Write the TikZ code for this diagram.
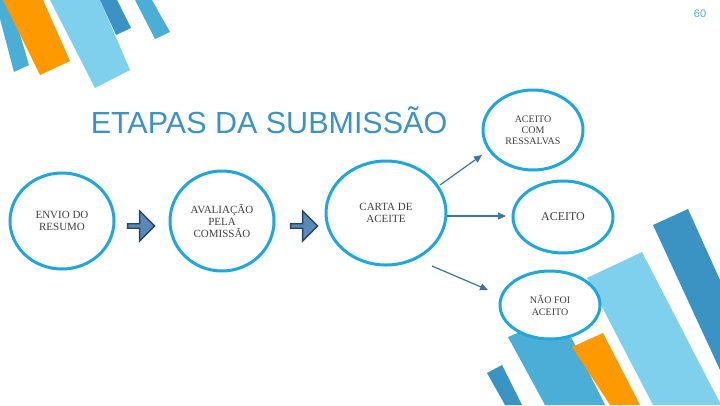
\documentclass[tikz,border=0pt]{standalone}
\usepackage{fontspec}
\setmainfont{Liberation Serif}
\newfontfamily\hsans{Liberation Sans}
\usetikzlibrary{shapes.geometric,shapes.arrows,arrows.meta}
\definecolor{dblue}{HTML}{3A93C2}
\definecolor{mblue}{HTML}{4BAED6}
\definecolor{lblue}{HTML}{7FD0EC}
\definecolor{orng}{HTML}{FF9900}
\definecolor{ring}{HTML}{1EA6DD}
\definecolor{arr}{HTML}{3E73A8}
\tikzset{
  stage/.style={ellipse,draw=ring,line width=3pt,fill=white,align=center,text=black!75,font=\fontsize{11}{12}\selectfont,inner sep=0pt},
  blockarr/.style={single arrow,draw=arr!60!black,fill=arr!85!white,line width=1.4pt,minimum width=30pt,single arrow head extend=4pt,single arrow head indent=0pt,minimum height=27pt,inner sep=0pt},
  conn/.style={draw=arr,line width=1.2pt,-{Triangle[length=8pt,width=7pt]}}
}
\begin{document}
\begin{tikzpicture}[x=1pt,y=-1pt]
\useasboundingbox (0,0) rectangle (720,405);
% decorations top-left
\fill[mblue] (-5,0) -- (10,0) -- (29,65) -- (14,72) -- cycle;
\fill[orng] (3,0) -- (43,0) -- (70,61) -- (40,75) -- cycle;
\fill[lblue] (50,0) -- (100,0) -- (130,70) -- (95,88) -- cycle;
\fill[dblue] (100,0) -- (117,0) -- (131,28) -- (116,35) -- cycle;
\fill[mblue] (135,0) -- (152,0) -- (170,32) -- (155,39) -- cycle;
% decorations bottom-right
\fill[dblue] (653,225) -- (688,209) -- (720,280) -- (720,370) -- cycle;
\fill[lblue] (587,278) -- (642,252) -- (720,403) -- (720,405) -- (653,405) -- cycle;
\fill[mblue] (508,337) -- (560,315) -- (605,405) -- (545,405) -- cycle;
\fill[orng] (572,347) -- (603,333) -- (640,405) -- (610,405) -- cycle;
\fill[dblue] (487,373) -- (502,365) -- (522,405) -- (505,405) -- cycle;
% page number and title
\node[text=mblue,font=\hsans\fontsize{11}{12}\selectfont] (pg) at (700,14) {60};
\node[text=dblue,font=\hsans\fontsize{30.5}{32}\selectfont] (title) at (269,120) {ETAPAS DA SUBMISSÃO};
% stages
\node[stage,minimum width=104pt,minimum height=96pt] (envio) at (62,221) {ENVIO DO\\RESUMO};
\node[stage,minimum width=104pt,minimum height=100pt] (aval) at (222,221) {AVALIAÇÃO\\PELA\\COMISSÃO};
\node[stage,minimum width=120pt,minimum height=104pt] (carta) at (386,213) {CARTA DE\\ACEITE};
\node[stage,minimum width=100pt,minimum height=80pt,font=\fontsize{10}{11}\selectfont] (ress) at (533,130) {ACEITO\\COM\\RESSALVAS};
\node[stage,minimum width=100pt,minimum height=72pt,font=\fontsize{12}{13}\selectfont] (aceito) at (563,217) {ACEITO};
\node[stage,minimum width=100pt,minimum height=68pt,font=\fontsize{10}{12}\selectfont] (nao) at (550,305) {NÃO FOI\\ACEITO};
% block arrows
\node[blockarr] (b1) at (140,226) {};
\node[blockarr] (b2) at (303,226) {};
% connectors
\coordinate (c1) at (440,185);
\coordinate (c2) at (447,216);
\coordinate (c3) at (432,266);
\coordinate (e1) at (482,155);
\coordinate (e2) at (506,216);
\coordinate (e3) at (488,290);
\draw[conn] (c1) -- (e1);
\draw[conn] (c2) -- (e2);
\draw[conn] (c3) -- (e3);
\end{tikzpicture}
\end{document}
